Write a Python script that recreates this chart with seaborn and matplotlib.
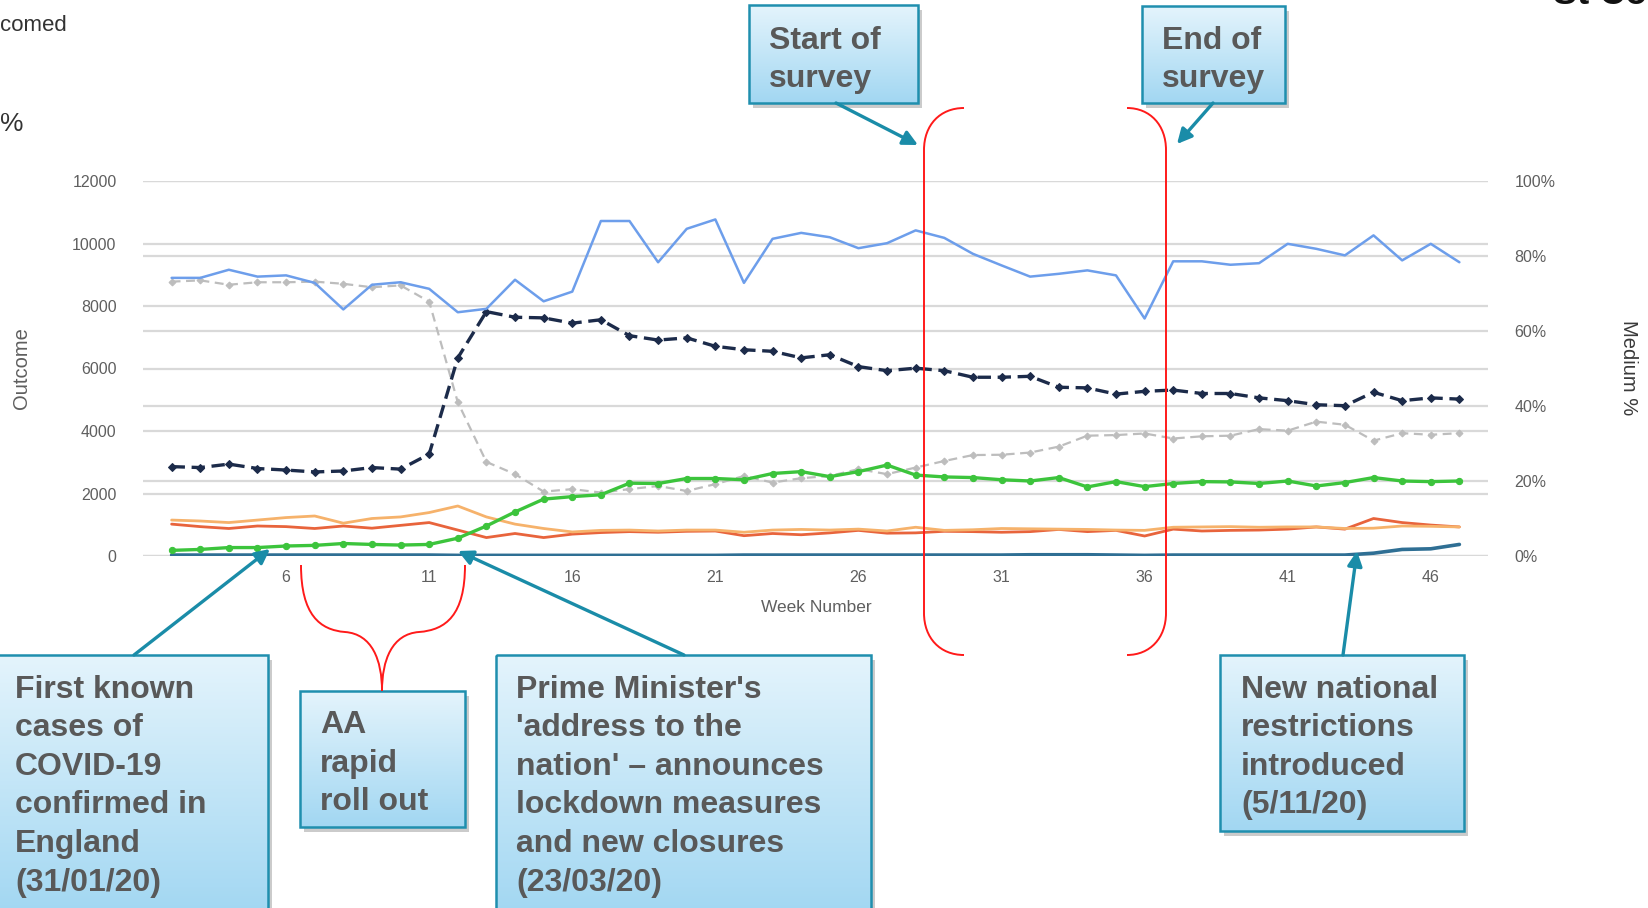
import numpy as np
import matplotlib
matplotlib.use("Agg")
import matplotlib.pyplot as plt
import seaborn as sns
from matplotlib.patches import Rectangle, PathPatch
from matplotlib.path import Path
from matplotlib.colors import LinearSegmentedColormap
from matplotlib.ticker import PercentFormatter

# ---- data: weekly values, weeks 2..47 ----
weeks = list(range(2, 48))

line_blue = [8900, 8900, 9160, 8940, 8980, 8740, 7890, 8680, 8760, 8550, 7800, 7910, 8840, 8150, 8460,
             10720, 10720, 9400, 10470, 10770, 8740, 10150, 10340, 10200, 9850, 10010, 10420, 10180, 9670, 9300, 8940,
             9030, 9140, 8980, 7600, 9430, 9430, 9320, 9370, 9990, 9830, 9620, 10260, 9460, 9990, 9400]
line_navy = [2860, 2830, 2940, 2800, 2750, 2690, 2720, 2830, 2780, 3260, 6340, 7820, 7640, 7620, 7450,
             7560, 7050, 6910, 6980, 6710, 6600, 6550, 6340, 6440, 6060, 5930, 6010, 5930, 5720, 5720, 5750,
             5400, 5380, 5180, 5270, 5310, 5200, 5200, 5060, 4970, 4840, 4810, 5240, 4970, 5060, 5020]
line_grey = [8780, 8820, 8680, 8760, 8760, 8780, 8710, 8600, 8660, 8140, 4920, 3010, 2620, 2060, 2140,
             2030, 2140, 2240, 2080, 2300, 2560, 2350, 2490, 2560, 2780, 2620, 2830, 3040, 3230, 3240, 3310,
             3500, 3850, 3870, 3920, 3760, 3830, 3850, 4060, 4010, 4300, 4200, 3690, 3930, 3880, 3930]
line_green = [180, 210, 270, 270, 320, 340, 400, 370, 350, 370, 570, 960, 1410, 1820, 1900,
              1960, 2330, 2320, 2480, 2480, 2440, 2640, 2700, 2540, 2700, 2910, 2590, 2530, 2510, 2440, 2400,
              2510, 2210, 2380, 2220, 2320, 2380, 2370, 2320, 2400, 2240, 2350, 2510, 2400, 2380, 2400]
line_amber = [1150, 1120, 1070, 1150, 1230, 1280, 1050, 1200, 1250, 1390, 1600, 1250, 1020, 880, 770,
              820, 830, 800, 830, 830, 760, 830, 850, 830, 860, 800, 920, 820, 840, 880, 870,
              860, 850, 830, 820, 920, 930, 940, 920, 930, 930, 880, 890, 960, 950, 930]
line_red = [1020, 940, 880, 960, 940, 880, 960, 890, 980, 1070, 830, 590, 720, 590, 700,
            750, 780, 760, 790, 800, 650, 720, 680, 740, 820, 730, 740, 790, 780, 760, 780,
            850, 780, 820, 640, 860, 800, 820, 830, 860, 930, 860, 1200, 1070, 990, 930]
line_teal = [30, 30, 30, 30, 30, 30, 30, 30, 30, 30, 20, 20, 20, 20, 20,
             20, 20, 20, 20, 20, 30, 30, 30, 30, 30, 30, 30, 30, 30, 30, 40,
             40, 40, 30, 20, 30, 30, 30, 30, 30, 30, 30, 90, 210, 230, 370]

week_ticks = [6, 11, 16, 21, 26, 31, 36, 41, 46]
outcome_ticks = [0, 2000, 4000, 6000, 8000, 10000, 12000]
pct_ticks = [0, 0.2, 0.4, 0.6, 0.8, 1.0]

# ---- figure / style ----
sns.set_theme(style="white")
plt.rcParams['font.family'] = ['Liberation Sans', 'DejaVu Sans']

W, H = 1649, 908
fig = plt.figure(figsize=(W / 100, H / 100), dpi=100)
fig.patch.set_facecolor("white")

ax = fig.add_axes([143 / W, 1 - 556 / H, (1488 - 143) / W, (556 - 181) / H])
ax2 = ax.twinx()
ax.set_zorder(ax2.get_zorder() + 1)
ax.patch.set_visible(False)

grid_kw = dict(color="#d9d9d9", lw=1.6)
tick_col = "#5f5f5f"

ax.set_xlim(1, 48)
ax.set_ylim(0, 12000)
ax.set_yticks(outcome_ticks)
ax.set_xticks(week_ticks)
ax.yaxis.grid(True, **grid_kw)
ax.xaxis.grid(False)
ax.set_axisbelow(True)
ax.tick_params(axis="y", length=0, labelsize=11.5, labelcolor=tick_col, pad=19)
ax.tick_params(axis="x", length=0, labelsize=11.5, labelcolor=tick_col, pad=10)

ax2.set_ylim(0, 1)
ax2.set_yticks(pct_ticks)
ax2.yaxis.set_major_formatter(PercentFormatter(1.0, decimals=0))
ax2.yaxis.grid(True, **grid_kw)
ax2.tick_params(axis="y", length=0, labelsize=11.5, labelcolor=tick_col, pad=19)

for a in (ax, ax2):
    for s in a.spines.values():
        s.set_visible(False)

# ---- series ----
sns.lineplot(x=weeks, y=line_teal, ax=ax, color="#2f6f94", lw=2.6)
sns.lineplot(x=weeks, y=line_red, ax=ax, color="#e8643c", lw=2.0)
sns.lineplot(x=weeks, y=line_amber, ax=ax, color="#f6b26b", lw=2.0)
sns.lineplot(x=weeks, y=line_grey, ax=ax, color="#bdbdbd", lw=1.6, linestyle=(0, (4, 2.5)),
             marker="D", markersize=3.5, markeredgecolor="#bdbdbd", markerfacecolor="#bdbdbd")
sns.lineplot(x=weeks, y=line_green, ax=ax, color="#3cc43c", lw=2.4,
             marker="o", markersize=4.5, markeredgecolor="#3cc43c", markerfacecolor="#3cc43c")
sns.lineplot(x=weeks, y=line_navy, ax=ax, color="#1c2b4a", lw=2.4, linestyle=(0, (4, 2)),
             marker="D", markersize=4.5, markeredgecolor="#1c2b4a", markerfacecolor="#1c2b4a")
sns.lineplot(x=weeks, y=line_blue, ax=ax, color="#6d9eeb", lw=1.8)

ax.set_xlabel("")
ax.set_ylabel("")

fig.text(22 / W, 1 - 368 / H, "Outcome", rotation=90, ha="center", va="center",
         fontsize=14.5, color=tick_col)
fig.text(1629 / W, 1 - 368 / H, "Medium %", rotation=270, ha="center", va="center",
         fontsize=14.5, color="#3a3a3a")
fig.text(816 / W, 1 - 608 / H, "Week Number", ha="center", va="center",
         fontsize=12.5, color=tick_col)

# ---- annotation layer in pixel coordinates ----
ov = fig.add_axes([0, 0, 1, 1])
ov.set_zorder(20)
ov.patch.set_alpha(0)
ov.axis("off")

box_cmap = LinearSegmentedColormap.from_list("callout", ["#e4f4fc", "#a2d7f2"])
grad = np.linspace(0, 1, 200).reshape(-1, 1)
text_col = "#595959"
teal = "#1a8ca8"


def callout(x0, y0, x1, y1, lines, tx, baselines):
    ov.add_patch(Rectangle((x0 + 4, y0 + 5), x1 - x0, y1 - y0, fc="#8c8c8c", alpha=0.45,
                           lw=0, zorder=1))
    ov.imshow(grad, extent=(x0, x1, y1, y0), cmap=box_cmap, aspect="auto",
              interpolation="bilinear", zorder=2)
    ov.add_patch(Rectangle((x0, y0), x1 - x0, y1 - y0, fill=False, ec="#1f8fae", lw=1.8, zorder=3))
    for s, b in zip(lines, baselines):
        ov.text(tx, b, s, ha="left", va="baseline", fontsize=23, fontweight="bold",
                color=text_col, zorder=4)


def arrow(tail, tip):
    ov.annotate("", xy=tip, xytext=tail, zorder=5,
                arrowprops=dict(arrowstyle="-|>", color=teal, lw=2.4, mutation_scale=22,
                                shrinkA=0, shrinkB=0))


body = [698, 736, 775, 813, 852, 891]
callout(749, 5, 918, 103, ["Start of", "survey"], 769, [49, 87])
callout(1142, 6, 1285, 103, ["End of", "survey"], 1162, [49, 87])
callout(-3, 655, 268, 915, ["First known", "cases of", "COVID-19", "confirmed in", "England",
                            "(31/01/20)"], 15, body)
callout(300, 691, 465, 827, ["AA", "rapid", "roll out"], 320, [733, 772, 810])
callout(496, 655, 871, 915, ["Prime Minister's", "'address to the", "nation' \u2013 announces",
                             "lockdown measures", "and new closures", "(23/03/20)"], 516, body)
callout(1220, 655, 1464, 831, ["New national", "restrictions", "introduced", "(5/11/20)"], 1241,
        body[:4])

arrow((134, 655), (270, 549))
arrow((684, 655), (458, 551))
arrow((1343, 655), (1357, 551))
arrow((836, 103), (918, 145))
arrow((1213, 103), (1177, 144))

# red brackets around the survey window and the roll-out period
red = "#ff1a1a"
C, L, M = Path.CURVE4, Path.LINETO, Path.MOVETO
left_paren = Path([(964, 108), (940, 108), (924, 125), (924, 150), (924, 613),
                   (924, 638), (940, 655), (964, 655)], [M, C, C, C, L, C, C, C])
right_paren = Path([(1127, 108), (1150, 108), (1166, 125), (1166, 150), (1166, 613),
                    (1166, 638), (1150, 655), (1127, 655)], [M, C, C, C, L, C, C, C])
brace = Path([(301, 565), (301, 615), (320, 630), (345, 632), (372, 634), (382, 660), (382, 691),
              (382, 660), (392, 634), (419, 632), (446, 630), (465, 615), (465, 565)],
             [M, C, C, C, C, C, C, C, C, C, C, C, C])
for p in (left_paren, right_paren, brace):
    ov.add_patch(PathPatch(p, fill=False, ec=red, lw=1.4, zorder=6))

# fragments of surrounding page text
ov.text(0, 31, "comed", ha="left", va="baseline", fontsize=16, color="#333333")
ov.text(0, 131, "%", ha="left", va="baseline", fontsize=19, color="#333333")
ov.text(1553, 4, "St Co", ha="left", va="baseline", fontsize=26, fontweight="bold", color="#111111")

ov.set_xlim(0, W)
ov.set_ylim(H, 0)

fig.savefig("out.png", dpi=100, facecolor="white")
